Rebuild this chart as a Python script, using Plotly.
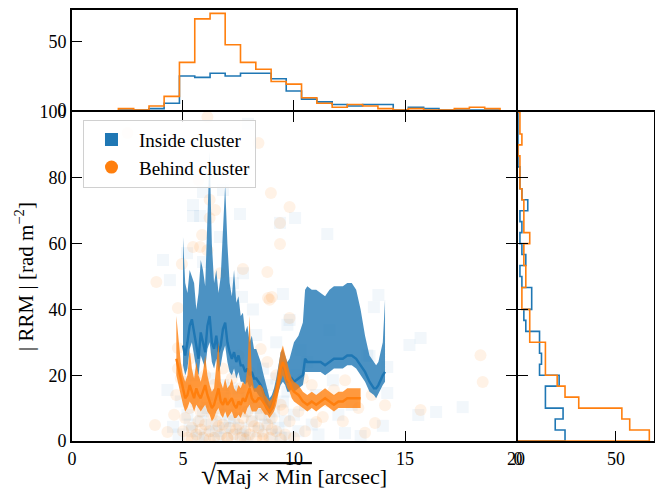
import plotly.graph_objects as go

# ---------------- data ----------------
inside_x = [7.93, 5.9, 6.8, 5.45, 5.45, 5.77, 7.57, 9.37, 10.05, 6.67, 5.18, 4.1, 4.41, 5.9, 7.7, 7.25,
            7.66, 9.5, 8.15, 11.5, 13.8, 13.6, 15.2, 15.7, 14.2, 14.2, 15.6, 16.4, 17.6, 14.0, 13.4, 11.6,
            11.75, 13.3, 12.3, 13.0, 9.7, 9.2, 10.3, 4.3, 4.55, 8.3, 9.8,
            5.2, 5.4, 5.6, 5.8, 6.0, 6.1, 6.3, 6.4, 6.6, 6.7, 6.9, 7.0, 7.2, 7.3, 7.5, 7.6, 7.8, 7.9, 8.1,
            8.2, 8.4, 8.5, 8.7, 8.8, 9.0, 9.1, 9.3, 9.5, 9.6, 9.8, 10.0, 10.2, 10.5, 10.8, 11.1, 5.1, 5.5,
            6.2, 6.8, 7.4, 8.0, 8.6, 9.2, 5.3, 5.9, 6.5, 7.1, 7.7, 8.3, 8.9, 9.4, 5.7, 6.8, 7.2, 7.9, 8.6,
            9.7, 10.1, 10.6, 11.0, 12.0, 12.6, 4.9, 4.8]
inside_y = [96.4, 75.7, 76.3, 71.7, 68.4, 68.4, 69.0, 66.3, 67.8, 62.0, 57.1, 55.0, 48.9, 54.4, 51.0, 48.0,
            43.8, 44.7, 40.0, 62.9, 44.4, 40.7, 29.2, 31.3, 22.5, 14.6, 7.9, 8.8, 10.3, 4.6, 25.8, 33.7,
            18.5, 26.0, 2.4, 1.5, 35.3, 30.0, 27.6, 15.5, 4.3, 32.2, 36.8,
            8, 3, 12, 6, 2, 10, 5, 14, 1, 8, 4, 11, 2, 7, 15, 4, 9, 1, 6,
            12, 3, 8, 5, 17, 2, 9, 4, 12, 6, 1, 8, 3, 11, 5, 2, 18, 20,
            19, 17, 21, 18, 22, 19, 5, 9, 3, 6, 2, 10, 7, 1, 1, 13, 16, 13, 14,
            15, 20, 24, 14, 8, 11, 12, 2]

behind_x = [6.1, 2.5, 8.4, 5.7, 6.2, 6.45, 6.2, 8.96, 9.8, 9.37, 5.86, 5.45, 5.77, 6.1, 4.95, 6.67, 3.8,
            7.7, 8.8, 8.83, 4.77, 18.4, 18.5, 14.1, 15.7, 13.65, 13.5, 12.3, 11.3, 9.8, 9.0, 4.77, 4.77,
            3.74, 4.3, 11.0, 9.5, 8.9, 9.37, 13.2, 12.9, 10.4, 11.8,
            5.0, 5.1, 5.2, 5.3, 5.4, 5.5, 5.6, 5.7, 5.8, 5.9, 6.0, 6.1, 6.2, 6.3, 6.4, 6.5, 6.6, 6.7, 6.8,
            6.9, 7.0, 7.1, 7.2, 7.3, 7.4, 7.5, 7.6, 7.7, 7.8, 7.9, 8.0, 8.1, 8.2, 8.3, 8.4, 8.5, 8.6, 8.7,
            8.8, 8.9, 9.0, 9.2, 9.4, 9.6, 9.8, 10.0, 10.2, 10.5, 5.2, 5.6, 6.0, 6.4, 6.8, 7.2, 7.6, 8.0,
            8.4, 8.8, 9.2, 5.4, 6.2, 7.0, 7.8, 8.6, 9.4, 5.8, 6.6, 7.4, 8.2, 9.0, 5.3, 6.5, 7.5, 8.5, 4.6,
            4.7, 4.9, 10.8, 11.5, 12.2]
behind_y = [98.5, 93.6, 90.6, 79.3, 73.3, 70.2, 67.8, 75.4, 71.1, 59.9, 62.6, 59.0, 59.0, 58.0, 53.8, 51.0,
            48.3, 52.3, 51.4, 43.5, 40.4, 26.1, 17.9, 10.9, 9.4, 5.5, 14.0, 18.5, 7.3, 37.4, 43.8, 28.3,
            22.0, 4.9, 2.7, 5.8, 9.5, 42.9, 66.3, 2.5, 10.0, 19.0, 15.5,
            3, 7, 1, 10, 4, 13, 2, 6, 9, 1, 5, 12, 3, 8, 1, 6, 10, 2, 5,
            14, 1, 4, 8, 2, 11, 5, 1, 7, 3, 9, 2, 6, 13, 1, 4, 8, 2, 10,
            5, 1, 7, 3, 11, 2, 6, 1, 9, 3, 16, 18, 20, 17, 22, 19, 16, 21,
            18, 24, 20, 0.5, 0.5, 0.8, 0.5, 0.7, 0.5, 3.5, 4.5, 3.5, 4.5, 3.5, 25, 27, 26, 28, 8,
            14, 19, 17, 12, 6]

# running median (inside cluster) with band
inside_run_x = [5.0, 5.1, 5.2, 5.3, 5.4, 5.5, 5.6, 5.7, 5.8, 5.9, 6.0, 6.1, 6.2, 6.3, 6.4, 6.5, 6.6, 6.7,
                6.8, 6.9, 7.0, 7.1, 7.2, 7.3, 7.4, 7.5, 7.6, 7.7, 7.8, 7.9, 8.0, 8.1, 8.2, 8.3, 8.4, 8.5,
                8.6, 8.7, 8.8, 8.9, 9.0, 9.1, 9.2, 9.3, 9.4, 9.5, 9.6, 9.7, 9.8, 9.9, 10.0, 10.2, 10.4,
                10.5, 10.6, 10.8, 11.0, 11.2, 11.4, 11.6, 11.8, 12.0, 12.2, 12.4, 12.6, 12.8, 13.0, 13.2,
                13.4, 13.6, 13.7, 13.8, 14.0, 14.1]
inside_run_med = [29, 26, 30, 35, 37, 33, 28, 25, 33, 30, 27, 35, 38, 30, 28, 32, 27, 29,
                  34, 36, 30, 27, 25, 27, 24, 26, 23, 23, 21, 22, 20, 21, 19, 19, 18, 17,
                  15, 13, 11, 10, 11, 13, 16, 19, 22, 23, 21, 18, 18, 19, 18, 19, 20,
                  25, 24, 24, 24, 24, 23, 24, 25, 25, 25, 26, 26, 25, 23, 21,
                  18, 16, 16, 17, 20, 21]
inside_run_lo = [23, 20, 22, 28, 30, 26, 22, 20, 26, 24, 22, 28, 30, 24, 22, 25, 21, 23,
                 27, 29, 24, 21, 20, 22, 19, 21, 18, 18, 17, 18, 16, 17, 15, 15, 14, 13,
                 12, 10, 9, 8, 9, 10, 13, 15, 17, 18, 17, 15, 15, 16, 15, 16, 17,
                 21, 21, 21, 21, 21, 20, 21, 22, 22, 22, 23, 23, 22, 20, 18,
                 15, 14, 13, 14, 17, 18]
inside_run_hi = [62, 48, 45, 52, 50, 48, 40, 45, 55, 52, 47, 70, 88, 60, 48, 52, 45, 50,
                 65, 78, 60, 48, 44, 52, 42, 44, 38, 39, 33, 35, 30, 32, 28, 28, 26, 24,
                 21, 18, 15, 13, 14, 16, 19, 23, 27, 28, 26, 24, 25, 28, 30, 32, 36,
                 46, 47, 46, 46, 45, 44, 46, 47, 47, 47, 48, 48, 46, 40, 32,
                 26, 24, 23, 24, 30, 43]

# running median (behind cluster) with band
behind_run_x = [4.7, 4.8, 4.9, 5.0, 5.1, 5.2, 5.3, 5.4, 5.5, 5.6, 5.7, 5.8, 5.9, 6.0, 6.1, 6.2, 6.3, 6.4,
                6.5, 6.6, 6.7, 6.8, 6.9, 7.0, 7.1, 7.2, 7.3, 7.4, 7.5, 7.6, 7.7, 7.8, 7.9, 8.0, 8.1, 8.2,
                8.3, 8.4, 8.5, 8.6, 8.7, 8.8, 8.9, 9.0, 9.1, 9.2, 9.3, 9.4, 9.5, 9.6, 9.7, 9.8, 9.9, 10.0,
                10.2, 10.4, 10.6, 10.8, 11.0, 11.2, 11.4, 11.6, 11.8, 12.0, 12.2, 12.4, 12.6, 12.8, 13.0]
behind_run_med = [25, 22, 18, 15, 13, 14, 17, 15, 13, 16, 14, 13, 15, 17, 14, 12, 10, 11,
                  14, 16, 12, 11, 13, 11, 12, 13, 11, 10, 12, 11, 13, 12, 14, 16, 13, 12,
                  12, 13, 13, 12, 11, 10, 9, 10, 12, 14, 18, 22, 24, 22, 19, 18, 16, 15,
                  14, 12, 11, 12, 11, 12, 13, 12, 11, 12, 12, 13, 13, 13, 13]
behind_run_lo = [20, 17, 14, 11, 9, 10, 12, 11, 9, 11, 10, 9, 10, 11, 9, 8, 6, 7,
                 9, 10, 8, 7, 9, 7, 8, 9, 7, 7, 8, 7, 9, 8, 10, 11, 9, 9,
                 9, 10, 10, 9, 8, 8, 7, 8, 9, 11, 14, 18, 20, 18, 16, 15, 13, 12,
                 11, 10, 9, 10, 9, 10, 11, 10, 9, 10, 10, 10, 10, 10, 10]
behind_run_hi = [38, 30, 24, 20, 18, 20, 28, 22, 19, 24, 20, 18, 21, 26, 20, 17, 15, 16,
                 22, 30, 18, 16, 19, 16, 17, 19, 16, 15, 17, 16, 18, 17, 22, 38, 20, 16,
                 16, 17, 17, 16, 14, 13, 12, 13, 15, 18, 22, 27, 29, 26, 23, 21, 19, 18,
                 17, 15, 14, 15, 14, 15, 16, 15, 14, 15, 15, 16, 16, 16, 16]

# histogram of source size (top panel)
size_bin_edges = [2.09, 2.78, 3.47, 4.15, 4.84, 5.53, 6.22, 6.90, 7.59, 8.28, 8.97, 9.65, 10.34, 11.03,
                  11.72, 12.40, 13.09, 13.78, 14.47, 15.15, 15.84, 16.53, 17.22, 17.90, 18.59, 19.28]
size_counts_inside = [0, 0, 1, 5, 25, 24, 27, 25, 27, 27, 23, 14, 8, 6, 4, 3, 4, 4, 0, 2, 1, 0, 0, 0, 0]
size_counts_behind = [1, 0, 3, 10, 35, 67, 71, 48, 35, 30, 21, 19, 9, 5, 2, 4, 3, 1, 0, 1, 0, 0, 1, 2, 1]

# histogram of |RRM| (right panel)
rrm_bin_edges = [0, 3.33, 6.67, 10, 13.33, 16.67, 20, 23.33, 26.67, 30, 33.33, 36.67, 40, 43.33, 46.67,
                 50, 53.33, 56.67, 60, 63.33, 66.67, 70, 73.33, 76.67, 80, 83.33, 86.67, 90, 93.33,
                 96.67, 100]
rrm_counts_inside = [24, 19, 23, 14, 14, 21, 11, 12, 11, 11, 4, 3, 7, 7, 2, 1, 4, 2, 1, 2, 1, 5, 2, 1, 1,
                     0, 0, 0, 0, 0]
rrm_counts_behind = [67, 57, 53, 31, 24, 20, 14, 14, 14, 6, 6, 6, 2, 2, 4, 4, 3, 3, 6, 3, 3, 3, 2, 1, 1,
                     1, 0, 2, 1, 1]

x_ticks = [0, 5, 10, 15, 20]
y_ticks = [0, 20, 40, 60, 80, 100]
hist_count_ticks = [0, 50]
labels = ["Inside cluster", "Behind cluster"]

BLUE = "#1f77b4"
ORANGE = "#ff7f0e"
FONT = "Liberation Serif"


def step_path(edges, counts):
    a = [edges[0]]
    b = [0]
    for i, c in enumerate(counts):
        a += [edges[i], edges[i + 1]]
        b += [c, c]
    a.append(edges[-1])
    b.append(0)
    return a, b


fig = go.Figure()

# scatter points
fig.add_trace(go.Scatter(x=inside_x, y=inside_y, mode="markers", showlegend=False, hoverinfo="skip",
                         marker=dict(symbol="square", size=12, color=BLUE, opacity=0.06, line=dict(width=0))))
fig.add_trace(go.Scatter(x=behind_x, y=behind_y, mode="markers", showlegend=False, hoverinfo="skip",
                         marker=dict(symbol="circle", size=12, color=ORANGE, opacity=0.1, line=dict(width=0))))

# bands and running medians
for rx, med, lo, hi, col, rgba in [
    (inside_run_x, inside_run_med, inside_run_lo, inside_run_hi, BLUE, "rgba(31,119,180,0.8)"),
    (behind_run_x, behind_run_med, behind_run_lo, behind_run_hi, ORANGE, "rgba(255,127,14,0.8)"),
]:
    fig.add_trace(go.Scatter(x=rx + rx[::-1], y=hi + lo[::-1], fill="toself", fillcolor=rgba,
                             line=dict(width=0), mode="lines", showlegend=False, hoverinfo="skip"))
    fig.add_trace(go.Scatter(x=rx, y=med, mode="lines", line=dict(color=col, width=2.4),
                             showlegend=False))

# top histogram
for counts, col in [(size_counts_inside, BLUE), (size_counts_behind, ORANGE)]:
    hx, hy = step_path(size_bin_edges, counts)
    fig.add_trace(go.Scatter(x=hx, y=hy, mode="lines", line=dict(color=col, width=1.6),
                             xaxis="x2", yaxis="y2", showlegend=False))

# right histogram
for counts, col in [(rrm_counts_inside, BLUE), (rrm_counts_behind, ORANGE)]:
    hy, hx = step_path(rrm_bin_edges, counts)
    fig.add_trace(go.Scatter(x=hx, y=hy, mode="lines", line=dict(color=col, width=1.6),
                             xaxis="x3", yaxis="y3", showlegend=False))

# legend entries
fig.add_trace(go.Scatter(x=[None], y=[None], mode="markers", name=labels[0],
                         marker=dict(symbol="square", size=13, color=BLUE)))
fig.add_trace(go.Scatter(x=[None], y=[None], mode="markers", name=labels[1],
                         marker=dict(symbol="circle", size=13, color=ORANGE)))

axis_common = dict(showline=True, linecolor="black", linewidth=2, ticks="inside", ticklen=10,
                   tickwidth=1.3, tickcolor="black", showgrid=False, zeroline=False,
                   tickfont=dict(family=FONT, size=18, color="black"), automargin=False)

main_xd = [0.1099, 0.7878]
main_yd = [0.1, 0.7714]

x_title = ("<span style='font-size:28px'>√</span>"
           "<span style='text-decoration:overline'>Maj × Min</span> [arcsec]")

fig.update_layout(
    width=655, height=490, margin=dict(l=0, r=0, t=0, b=0),
    plot_bgcolor="white", paper_bgcolor="white",
    font=dict(family=FONT, size=18, color="black"),
    xaxis=dict(domain=main_xd, anchor="y", range=[0, 20], tickvals=x_ticks, mirror="allticks",
               title=dict(text=x_title, font=dict(family=FONT, size=22), standoff=2),
               **axis_common),
    yaxis=dict(domain=main_yd, anchor="x", range=[0, 100], tickvals=y_ticks, mirror="allticks",
               title=dict(text="| RRM | [rad m<sup>−2</sup>]", font=dict(family=FONT, size=21), standoff=0),
               **axis_common),
    xaxis2=dict(domain=main_xd, anchor="y2", range=[0, 20], tickvals=x_ticks, showticklabels=False,
                mirror=True, **axis_common),
    yaxis2=dict(domain=[0.7755, 0.9796], anchor="x2", range=[0, 73.5], tickvals=hist_count_ticks,
                mirror=True, **axis_common),
    xaxis3=dict(domain=[0.7908, 0.9985], anchor="y3", range=[0, 69.4], tickvals=hist_count_ticks,
                mirror=True, **axis_common),
    yaxis3=dict(domain=main_yd, anchor="x3", range=[0, 100], tickvals=y_ticks, showticklabels=False,
                mirror=True, **axis_common),
    legend=dict(x=0.1267, y=0.756, xanchor="left", yanchor="top", bgcolor="rgba(255,255,255,0.85)",
                bordercolor="#d0d0d0", borderwidth=1, font=dict(family=FONT, size=19),
                itemwidth=45, traceorder="normal", tracegroupgap=0),
)

fig.write_html("out.html")
